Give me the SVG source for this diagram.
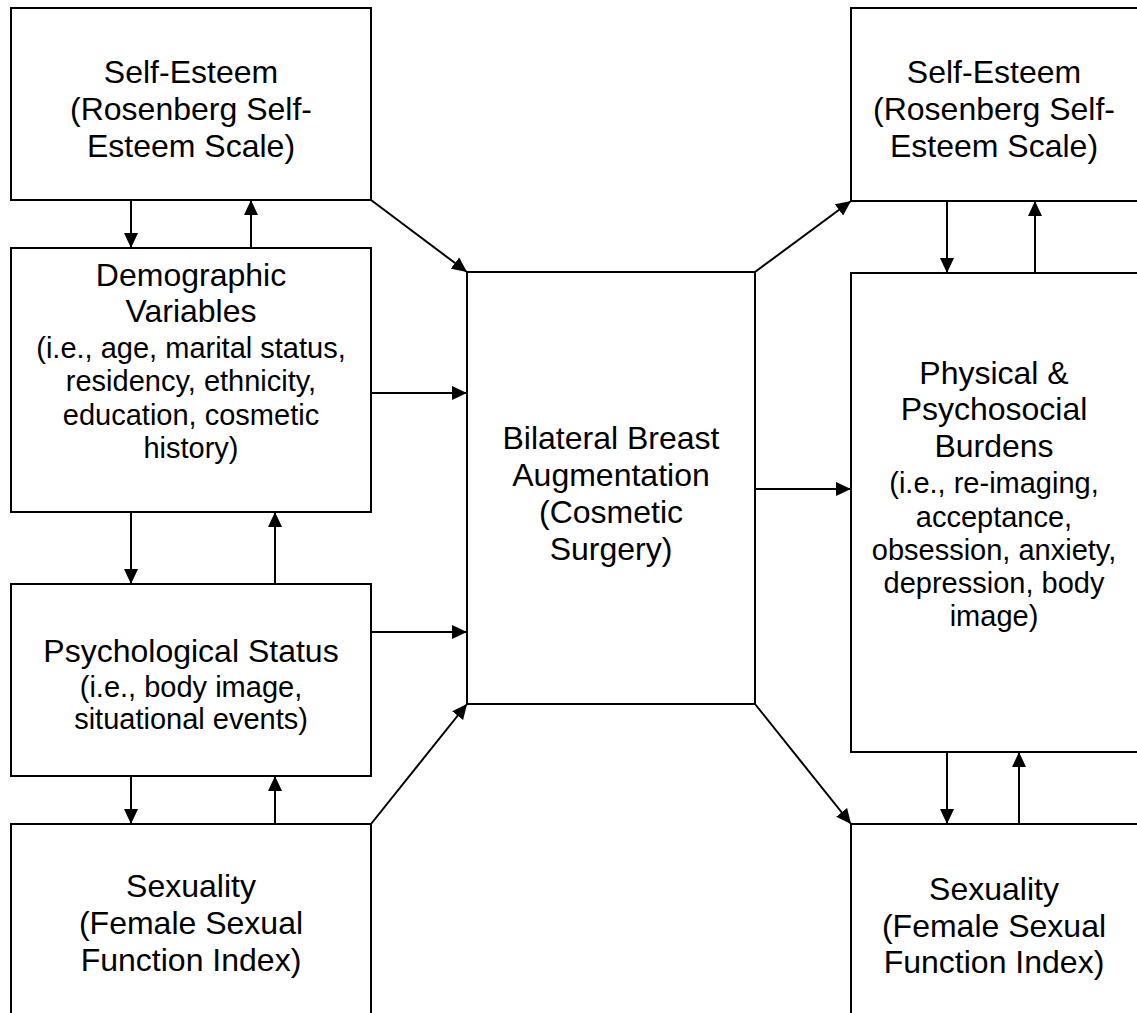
<svg xmlns="http://www.w3.org/2000/svg" width="1137" height="1013" viewBox="0 0 1137 1013">
<style>
.box{fill:#fff;stroke:#000;stroke-width:2}
.h{font-family:"Liberation Sans",Arial,sans-serif;font-size:32px;fill:#000;text-anchor:middle}
.d{font-family:"Liberation Sans",Arial,sans-serif;font-size:29px;fill:#000;text-anchor:middle}
.c{stroke:#000;stroke-width:2;fill:none;marker-end:url(#ah)}
</style>
<defs>
<marker id="ah" markerUnits="userSpaceOnUse" markerWidth="15" markerHeight="14" refX="15" refY="7" orient="auto">
<path d="M0,0 L15,7 L0,14 z" fill="#000"/>
</marker>
</defs>
<rect width="1137" height="1013" fill="#fff"/>
<g id="left-self-esteem">
<rect class="box" x="11" y="8" width="360" height="192"/>
<text class="h" x="191" y="83">Self-Esteem</text>
<text class="h" x="191" y="120">(Rosenberg Self-</text>
<text class="h" x="191" y="157">Esteem Scale)</text>
</g>
<g id="demographic">
<rect class="box" x="11" y="248" width="360" height="264"/>
<text class="h" x="191" y="286">Demographic</text>
<text class="h" x="191" y="322">Variables</text>
<text class="d" x="191" y="358">(i.e., age, marital status,</text>
<text class="d" x="191" y="391">residency, ethnicity,</text>
<text class="d" x="191" y="425">education, cosmetic</text>
<text class="d" x="191" y="458">history)</text>
</g>
<g id="psychological">
<rect class="box" x="11" y="584" width="360" height="192"/>
<text class="h" x="191" y="662">Psychological Status</text>
<text class="d" x="191" y="697">(i.e., body image,</text>
<text class="d" x="191" y="729">situational events)</text>
</g>
<g id="left-sexuality">
<rect class="box" x="11" y="824" width="360" height="220"/>
<text class="h" x="191" y="897">Sexuality</text>
<text class="h" x="191" y="934">(Female Sexual</text>
<text class="h" x="191" y="971">Function Index)</text>
</g>
<g id="augmentation">
<rect class="box" x="467" y="272" width="288" height="432"/>
<text class="h" x="611" y="449">Bilateral Breast</text>
<text class="h" x="611" y="486">Augmentation</text>
<text class="h" x="611" y="523">(Cosmetic</text>
<text class="h" x="611" y="560">Surgery)</text>
</g>
<g id="right-self-esteem">
<rect class="box" x="851" y="8" width="300" height="193"/>
<text class="h" x="994" y="83">Self-Esteem</text>
<text class="h" x="994" y="120">(Rosenberg Self-</text>
<text class="h" x="994" y="157">Esteem Scale)</text>
</g>
<g id="burdens">
<rect class="box" x="851" y="273" width="300" height="479"/>
<text class="h" x="994" y="384">Physical &amp;</text>
<text class="h" x="994" y="420">Psychosocial</text>
<text class="h" x="994" y="457">Burdens</text>
<text class="d" x="994" y="493">(i.e., re-imaging,</text>
<text class="d" x="994" y="527">acceptance,</text>
<text class="d" x="994" y="560">obsession, anxiety,</text>
<text class="d" x="994" y="593">depression, body</text>
<text class="d" x="994" y="626">image)</text>
</g>
<g id="right-sexuality">
<rect class="box" x="851" y="824" width="300" height="220"/>
<text class="h" x="994" y="900">Sexuality</text>
<text class="h" x="994" y="937">(Female Sexual</text>
<text class="h" x="994" y="973">Function Index)</text>
</g>
<g id="connectors">
<line class="c" x1="131" y1="200" x2="131" y2="248"/>
<line class="c" x1="251" y1="248" x2="251" y2="200"/>
<line class="c" x1="131" y1="512" x2="131" y2="584"/>
<line class="c" x1="275" y1="584" x2="275" y2="512"/>
<line class="c" x1="131" y1="776" x2="131" y2="824"/>
<line class="c" x1="275" y1="824" x2="275" y2="776"/>
<line class="c" x1="371" y1="200" x2="467" y2="272"/>
<line class="c" x1="371" y1="393" x2="467" y2="393"/>
<line class="c" x1="371" y1="632" x2="467" y2="632"/>
<line class="c" x1="371" y1="824" x2="467" y2="704"/>
<line class="c" x1="755" y1="272" x2="851" y2="201"/>
<line class="c" x1="755" y1="489" x2="851" y2="489"/>
<line class="c" x1="755" y1="704" x2="851" y2="824"/>
<line class="c" x1="947" y1="201" x2="947" y2="273"/>
<line class="c" x1="1035" y1="273" x2="1035" y2="201"/>
<line class="c" x1="947" y1="752" x2="947" y2="824"/>
<line class="c" x1="1019" y1="824" x2="1019" y2="752"/>
</g>
</svg>
